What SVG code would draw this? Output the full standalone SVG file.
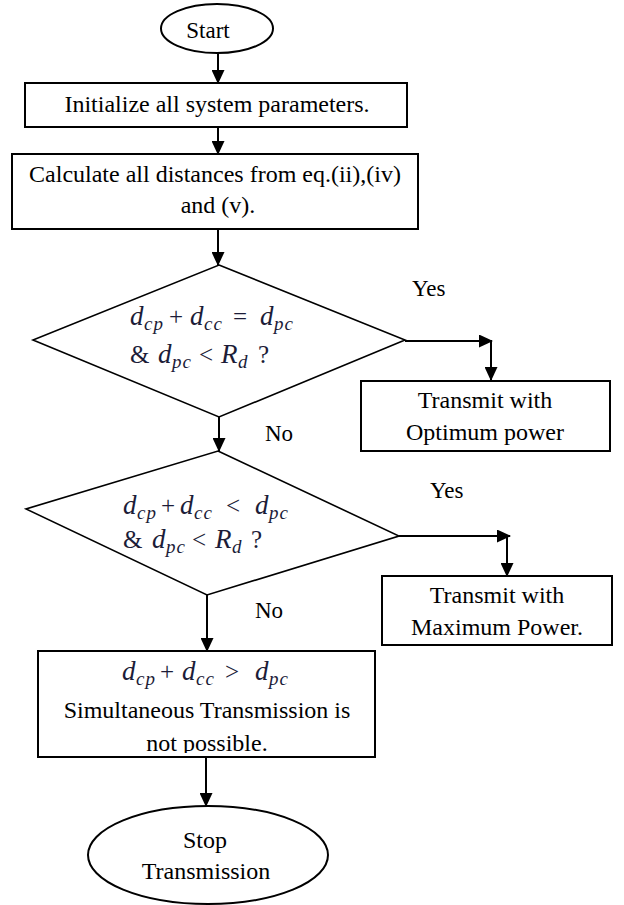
<svg xmlns="http://www.w3.org/2000/svg" width="624" height="905" viewBox="0 0 624 905">
<style>
.t{font-family:"Liberation Serif","Times New Roman",Tinos,serif;font-size:24px;fill:#000;text-anchor:middle}
.lbl{font-family:"Liberation Serif","Times New Roman",Tinos,serif;font-size:23px;fill:#000}
.box{fill:#fff;stroke:#000;stroke-width:2}
.dia{fill:#fff;stroke:#000;stroke-width:1.6}
.m{font-family:"Liberation Serif","Times New Roman",Tinos,serif;font-style:italic;font-size:27px;fill:#1c1c38}
.up{font-style:normal;font-size:25px}
.sub{font-size:19px;letter-spacing:1px}
.c{fill:none;stroke:#000;stroke-width:2}
</style>
<defs>
<marker id="ah" viewBox="0 0 14 13" refX="13" refY="6.5" markerWidth="14" markerHeight="13" markerUnits="userSpaceOnUse" orient="auto">
<path d="M0,0 L14,6.5 L0,13 z" fill="#000"/>
</marker>
<clipPath id="clip5"><rect x="38" y="651" width="337" height="102"/></clipPath>
</defs>

<g id="connectors">
<line class="c" x1="218" y1="53" x2="218" y2="83" marker-end="url(#ah)"/>
<line class="c" x1="218" y1="127" x2="218" y2="154" marker-end="url(#ah)"/>
<line class="c" x1="218" y1="229" x2="218" y2="265" marker-end="url(#ah)"/>
<line class="c" x1="405" y1="341" x2="492" y2="341" marker-end="url(#ah)"/>
<line class="c" x1="491" y1="341" x2="491" y2="380" marker-end="url(#ah)"/>
<line class="c" x1="219" y1="417" x2="219" y2="451" marker-end="url(#ah)"/>
<line class="c" x1="399" y1="536" x2="510" y2="536" marker-end="url(#ah)"/>
<line class="c" x1="507" y1="536" x2="507" y2="576" marker-end="url(#ah)"/>
<line class="c" x1="207" y1="595" x2="207" y2="651" marker-end="url(#ah)"/>
<line class="c" x1="206" y1="757" x2="206" y2="806" marker-end="url(#ah)"/>
</g>

<g id="labels">
<text class="lbl" x="412" y="296">Yes</text>
<text class="lbl" x="265" y="441">No</text>
<text class="lbl" x="430" y="498">Yes</text>
<text class="lbl" x="255" y="618">No</text>
</g>

<g id="start">
<ellipse cx="217" cy="28.5" rx="56" ry="24.5" fill="#fff" stroke="#000" stroke-width="2"/>
<text class="t" x="208" y="38" style="font-size:23px">Start</text>
</g>

<g id="init">
<rect class="box" x="25" y="83" width="382" height="44"/>
<text class="t" x="217" y="112">Initialize all system parameters.</text>
</g>

<g id="calc">
<rect class="box" x="12" y="154" width="406" height="75"/>
<text class="t" x="215" y="182">Calculate all distances from eq.(ii),(iv)</text>
<text class="t" x="218" y="213">and (v).</text>
</g>

<g id="decision1">
<polygon class="dia" points="219,265 405,340 219,417 33,340"/>
<text class="m" y="325"><tspan x="130">d</tspan><tspan class="sub" x="144" dy="5">cp</tspan><tspan class="up" x="169" dy="-5">+</tspan><tspan x="190">d</tspan><tspan class="sub" x="204" dy="5">cc</tspan><tspan class="up" x="233" dy="-5">=</tspan><tspan x="260">d</tspan><tspan class="sub" x="274" dy="5">pc</tspan></text>
<text class="m" y="363"><tspan class="up" x="130">&amp;</tspan><tspan x="158">d</tspan><tspan class="sub" x="172" dy="5">pc</tspan><tspan class="up" x="199" dy="-5">&lt;</tspan><tspan x="221">R</tspan><tspan class="sub" x="238" dy="5">d</tspan><tspan class="up" x="258" dy="-5">?</tspan></text>
</g>

<g id="optimum">
<rect class="box" x="361" y="381" width="249" height="70"/>
<text class="t" x="485" y="408">Transmit with</text>
<text class="t" x="485" y="440">Optimum power</text>
</g>

<g id="decision2">
<polygon class="dia" points="218,451 399,536 207,595 26,509"/>
<text class="m" y="514"><tspan x="123">d</tspan><tspan class="sub" x="137" dy="5">cp</tspan><tspan class="up" x="161" dy="-5">+</tspan><tspan x="180">d</tspan><tspan class="sub" x="194" dy="5">cc</tspan><tspan class="up" x="226" dy="-5">&lt;</tspan><tspan x="255">d</tspan><tspan class="sub" x="269" dy="5">pc</tspan></text>
<text class="m" y="548"><tspan class="up" x="123">&amp;</tspan><tspan x="152">d</tspan><tspan class="sub" x="166" dy="5">pc</tspan><tspan class="up" x="192" dy="-5">&lt;</tspan><tspan x="215">R</tspan><tspan class="sub" x="232" dy="5">d</tspan><tspan class="up" x="251" dy="-5">?</tspan></text>
</g>

<g id="maximum">
<rect class="box" x="382" y="576" width="230" height="69"/>
<text class="t" x="497" y="603">Transmit with</text>
<text class="t" x="497" y="635">Maximum Power.</text>
</g>

<g id="notpossible">
<rect class="box" x="38" y="651" width="337" height="106"/>
<text class="m" y="680"><tspan x="122">d</tspan><tspan class="sub" x="136" dy="5">cp</tspan><tspan class="up" x="160" dy="-5">+</tspan><tspan x="182">d</tspan><tspan class="sub" x="196" dy="5">cc</tspan><tspan class="up" x="225" dy="-5">&gt;</tspan><tspan x="255">d</tspan><tspan class="sub" x="269" dy="5">pc</tspan></text>
<text class="t" x="207" y="718">Simultaneous Transmission is</text>
<text class="t" x="207" y="751" clip-path="url(#clip5)">not possible.</text>
<line x1="38" y1="757" x2="375" y2="757" stroke="#000" stroke-width="2"/>
</g>

<g id="stop">
<ellipse cx="208" cy="855" rx="120" ry="49" fill="#fff" stroke="#000" stroke-width="2"/>
<text class="t" x="205" y="848">Stop</text>
<text class="t" x="206" y="879">Transmission</text>
</g>
</svg>
